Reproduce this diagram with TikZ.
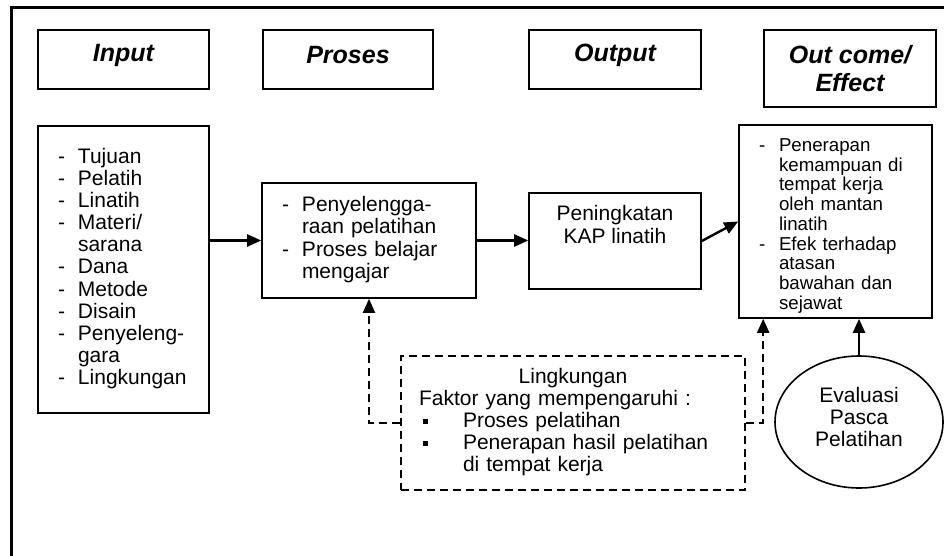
\documentclass[tikz,border=0pt]{standalone}
\usepackage{fontspec}
\setmainfont{Liberation Sans}
\usepackage{tikz}
\usetikzlibrary{arrows.meta,shapes.geometric}

\begin{document}
\begin{tikzpicture}[x=1pt,y=-1pt,
		hdbox/.style={draw,line width=1.6pt,minimum height=59pt,inner sep=0pt,align=center,font=\fontsize{25}{28}\selectfont\bfseries\itshape},
		listbox/.style={draw,line width=1.6pt,inner xsep=20pt,inner ysep=0pt,align=left},
		arr/.style={line width=2.4pt,-{Triangle[length=14pt,width=12pt]}},
		dsh/.style={line width=2pt,dash pattern=on 8pt off 5pt}]
			\useasboundingbox (0,0) rectangle (944,556);
			\draw[line width=3pt] (11,556) -- (11,8) -- (944,8);

			\node[hdbox,minimum width=171pt] (inhd) at (123.5,59.5) {\raisebox{4pt}[\height][\depth]{Input}};
			\node[hdbox,minimum width=170pt] (proshd) at (348,59.5) {\raisebox{4pt}[\height][\depth]{Proses}};
			\node[hdbox,minimum width=172pt] (outhd) at (615,59.5) {\raisebox{4pt}[\height][\depth]{Output}};
			\node[hdbox,minimum width=172pt,minimum height=77pt] (ochd) at (850,68.5) {Out come/\\Effect};

			\node[listbox,text width=131pt,minimum height=287pt,font=\fontsize{21}{22.1}\selectfont] (inlist) at (123.5,269.5)
			{
				\begin{tabular}{@{}p{20pt}@{}l@{}}
					- & Tujuan \\
					- & Pelatih \\
					- & Linatih \\
					- & Materi/ \\
					  & sarana \\
					- & Dana \\
					- & Metode \\
					- & Disain \\
					- & Penyeleng- \\
					  & gara \\
					- & Lingkungan \\
				\end{tabular}
			};

			\node[listbox,text width=174pt,minimum height=115pt,font=\fontsize{21}{22.5}\selectfont] (proslist) at (369,240.5)
			{
				\begin{tabular}{@{}p{20pt}@{}l@{}}
					- & Penyelengga- \\
					  & raan pelatihan \\
					- & Proses belajar \\
					  & mengajar \\
				\end{tabular}
			};

			\node[draw,line width=1.6pt,minimum width=172pt,minimum height=96pt] (outlist) at (615,241) {};
			\node[align=center,font=\fontsize{21}{23}\selectfont] (outtxt) at (615,224.5) {Peningkatan\\KAP linatih};

			\node[listbox,text width=153pt,minimum height=193pt,font=\fontsize{18.7}{19.75}\selectfont] (oclist) at (835.5,221.5)
			{
				\raisebox{-5pt}[\height][\depth]{%
				\begin{tabular}{@{}p{20pt}@{}l@{}}
					- & Penerapan \\
					  & kemampuan di \\
					  & tempat kerja \\
					  & oleh mantan \\
					  & linatih \\
					- & Efek terhadap \\
					  & atasan \\
					  & bawahan dan \\
					  & sejawat \\
				\end{tabular}}
			};

			\node[draw,dsh,line width=1.5pt,minimum width=344pt,minimum height=134pt,inner xsep=18pt,inner ysep=0pt,text width=308pt,align=left,font=\fontsize{21}{22}\selectfont] (faktor) at (573,423)
			{
				\begin{tabular}{@{}p{44pt}@{}p{264pt}@{}}
					\multicolumn{2}{@{}c@{}}{Lingkungan} \\
					\multicolumn{2}{@{}l@{}}{Faktor yang mempengaruhi :} \\
					\hspace*{4pt}\rule[3.5pt]{5pt}{5pt} & Proses pelatihan \\
					\hspace*{4pt}\rule[3.5pt]{5pt}{5pt} & Penerapan hasil pelatihan \\
					 & di tempat kerja \\
				\end{tabular}
			};

			\node[draw,ellipse,line width=1.6pt,minimum width=168pt,minimum height=132pt,inner sep=0pt,align=center,font=\fontsize{21}{22}\selectfont] (eval) at (859,422)
			{\raisebox{2pt}[\height][\depth]{\begin{tabular}{@{}c@{}}Evaluasi\\Pasca\\Pelatihan\end{tabular}}};

			\draw[arr] (inlist.east |- proslist.west) -- (proslist.west);
			\draw[arr] (proslist.east) -- (proslist.east -| outlist.west);
			\draw[arr] (outlist.east) -- (oclist.west);
			\draw[arr] (eval.north) -- (eval.north |- oclist.south);
			\draw[arr,dsh] (faktor.west) -| (proslist.south);
			\draw[arr,dsh] (faktor.east) -| ([xshift=25pt]oclist.south west);
		\end{tikzpicture}
\end{document}
